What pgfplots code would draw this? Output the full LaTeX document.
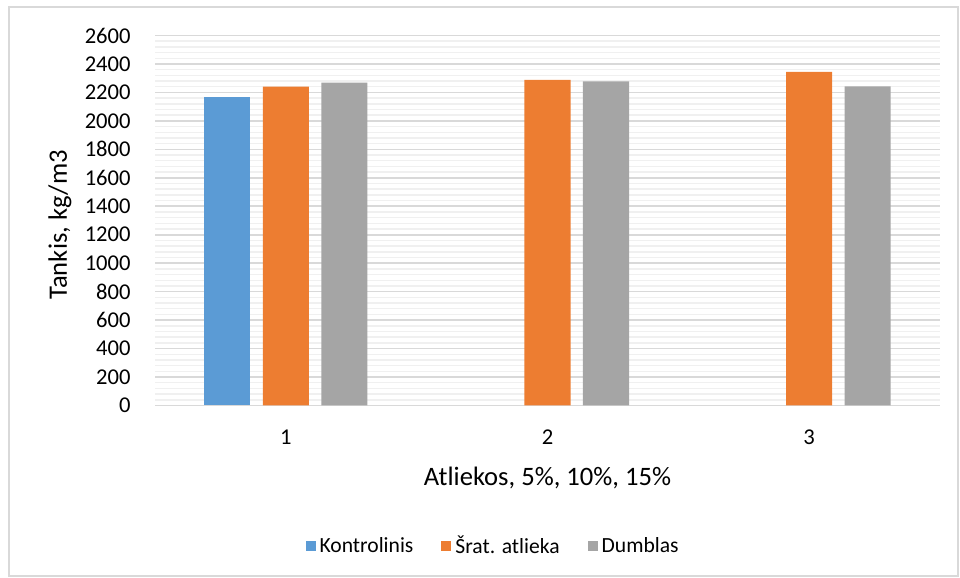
\documentclass[border=0pt]{standalone}
\usepackage{fontspec}
\setmainfont{Carlito}
\usepackage{pgfplots}
\pgfplotsset{compat=1.18}
\definecolor{cblue}{HTML}{5B9BD5}
\definecolor{corange}{HTML}{ED7D31}
\definecolor{cgray}{HTML}{A5A5A5}
\definecolor{gmaj}{HTML}{D9D9D9}
\definecolor{gmin}{HTML}{F0F0F0}
\definecolor{frame}{HTML}{D9D9D9}
\begin{document}
\begin{tikzpicture}
\useasboundingbox (0,0) rectangle (480pt,289pt);
\draw[frame, line width=0.6pt] (4.5pt,1pt) rectangle (479pt,285.5pt);
\begin{axis}[
  at={(77.5pt,86.25pt)}, anchor=south west,
  scale only axis, width=392.5pt, height=185pt,
  xmin=0.5, xmax=3.5, ymin=0, ymax=2600,
  ytick={0,200,...,2600},
  minor y tick num=4,
  xtick={1,2,3},
  axis x line*=bottom,
  axis y line*=left,
  x axis line style={gmaj, line width=0.8pt, -},
  y axis line style={draw=none, -},
  ymajorgrids, yminorgrids,
  major grid style={gmaj, line width=0.8pt},
  minor grid style={gmin, line width=0.7pt},
  major tick length=0pt, minor tick length=0pt,
  tick style={draw=none},
  /pgf/number format/assume math mode=true,
  /pgf/number format/1000 sep={},
  tick label style={font=\fontsize{11.3pt}{13pt}\selectfont, inner sep=0pt},
  yticklabel style={anchor=east, xshift=-12pt},
  xticklabel style={anchor=north, yshift=-12pt},
  xlabel={Atliekos, 5\%, 10\%, 15\%},
  ylabel={Tankis, kg/m3},
  label style={font=\fontsize{13.3pt}{16pt}\selectfont},
  xlabel style={at={(axis description cs:0.5,-0.196)}, anchor=center},
  ylabel style={at={(axis description cs:-0.121,0.488)}, anchor=center},
  ybar,
  bar width=0.176,
  legend style={at={(axis description cs:0.432,-0.38)}, anchor=center,
    draw=none, legend columns=3, font=\fontsize{10.8pt}{13pt}\selectfont,
    /tikz/every even column/.append style={column sep=12pt},
    inner sep=0pt},
  legend image code/.code={\fill[#1] (0pt,-2.5pt) rectangle (5pt,2.5pt);},
  legend cell align=left,
]
\addplot[fill=cblue, draw=none, bar shift=-0.2235] coordinates {(1,2170)};
\addplot[fill=corange, draw=none, bar shift=0] coordinates {(1,2240) (2,2288) (3,2345)};
\addplot[fill=cgray, draw=none, bar shift=0.2235] coordinates {(1,2268) (2,2278) (3,2243)};
\legend{Kontrolinis, Šrat. atlieka, Dumblas}
\end{axis}
\end{tikzpicture}
\end{document}
